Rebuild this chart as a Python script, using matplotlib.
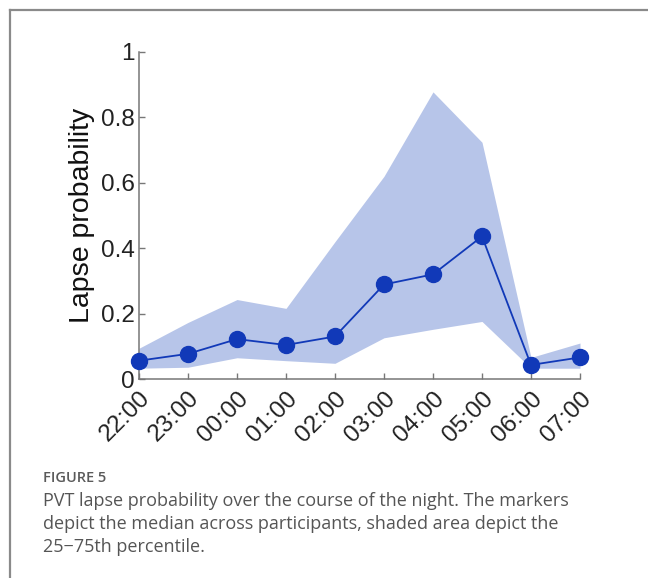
import matplotlib
matplotlib.use("Agg")
import matplotlib.pyplot as plt
from matplotlib.lines import Line2D
from matplotlib.transforms import ScaledTranslation

hours = ["22:00", "23:00", "00:00", "01:00", "02:00", "03:00", "04:00", "05:00", "06:00", "07:00"]
median = [0.056, 0.077, 0.122, 0.104, 0.130, 0.289, 0.320, 0.436, 0.043, 0.066]
p75 = [0.094, 0.173, 0.243, 0.216, 0.420, 0.620, 0.878, 0.724, 0.066, 0.110]
p25 = [0.033, 0.036, 0.065, 0.056, 0.048, 0.126, 0.152, 0.176, 0.033, 0.033]
yticks = [0, 0.2, 0.4, 0.6, 0.8, 1]
yticklabels = ["0", "0.2", "0.4", "0.6", "0.8", "1"]

W, H = 648, 578
fig = plt.figure(figsize=(W / 100, H / 100), dpi=100)
fig.patch.set_facecolor("white")

# frame lines of the figure panel
fig.add_artist(Line2D([9.5 / W, 9.5 / W], [0, 1 - 10 / H], transform=fig.transFigure,
                      color="#8a8a8a", lw=1.6))
fig.add_artist(Line2D([9.5 / W, 1], [1 - 10 / H, 1 - 10 / H], transform=fig.transFigure,
                      color="#8a8a8a", lw=1.6))

left, right, top, bottom = 139, 580, 52, 379
ax = fig.add_axes([left / W, 1 - bottom / H, (right - left) / W, (bottom - top) / H])

x = list(range(len(hours)))
ax.fill_between(x, p25, p75, color="#b7c5e9", lw=0)
ax.plot(x, median, color="#1139b8", lw=1.3, marker="o", markersize=11.5,
        markerfacecolor="#1139b8", markeredgecolor="#1139b8", clip_on=False, zorder=3)

ax.set_xlim(0, len(hours) - 1)
ax.set_ylim(0, 1)
ax.set_xticks(x)
ax.set_xticklabels(hours, rotation=45, ha="right", va="top", rotation_mode="anchor",
                   fontsize=17.5, family="Liberation Sans", color="#222222")
shift = ScaledTranslation(7 / 100, -2 / 100, fig.dpi_scale_trans)
for lab in ax.get_xticklabels():
    lab.set_transform(lab.get_transform() + shift)
ax.set_yticks(yticks)
ax.set_yticklabels(yticklabels, fontsize=17.5, family="Liberation Sans", color="#222222")
ax.tick_params(axis="both", direction="in", length=4, color="#777777", width=1)
ax.tick_params(axis="x", pad=6)
ax.tick_params(axis="y", pad=3)
for s in ["top", "right"]:
    ax.spines[s].set_visible(False)
for s in ["left", "bottom"]:
    ax.spines[s].set_color("#777777")
    ax.spines[s].set_linewidth(1.1)
ax.set_ylabel("Lapse probability", fontsize=20.5, family="Liberation Sans", color="#111111", labelpad=4)

fig.text(43 / W, 1 - 482 / H, "FIGURE 5", fontsize=10.5, family="Open Sans", color="#5a5a5a",
         va="baseline", ha="left", fontweight="semibold")
caption_lines = ["PVT lapse probability over the course of the night. The markers",
                 "depict the median across participants, shaded area depict the",
                 "25\u221275th percentile."]
for i, line in enumerate(caption_lines):
    fig.text(43 / W, 1 - (506 + 23 * i) / H, line, fontsize=13, family="Open Sans",
             color="#555555", va="baseline", ha="left")

fig.savefig("out.png", dpi=100, facecolor="white")
